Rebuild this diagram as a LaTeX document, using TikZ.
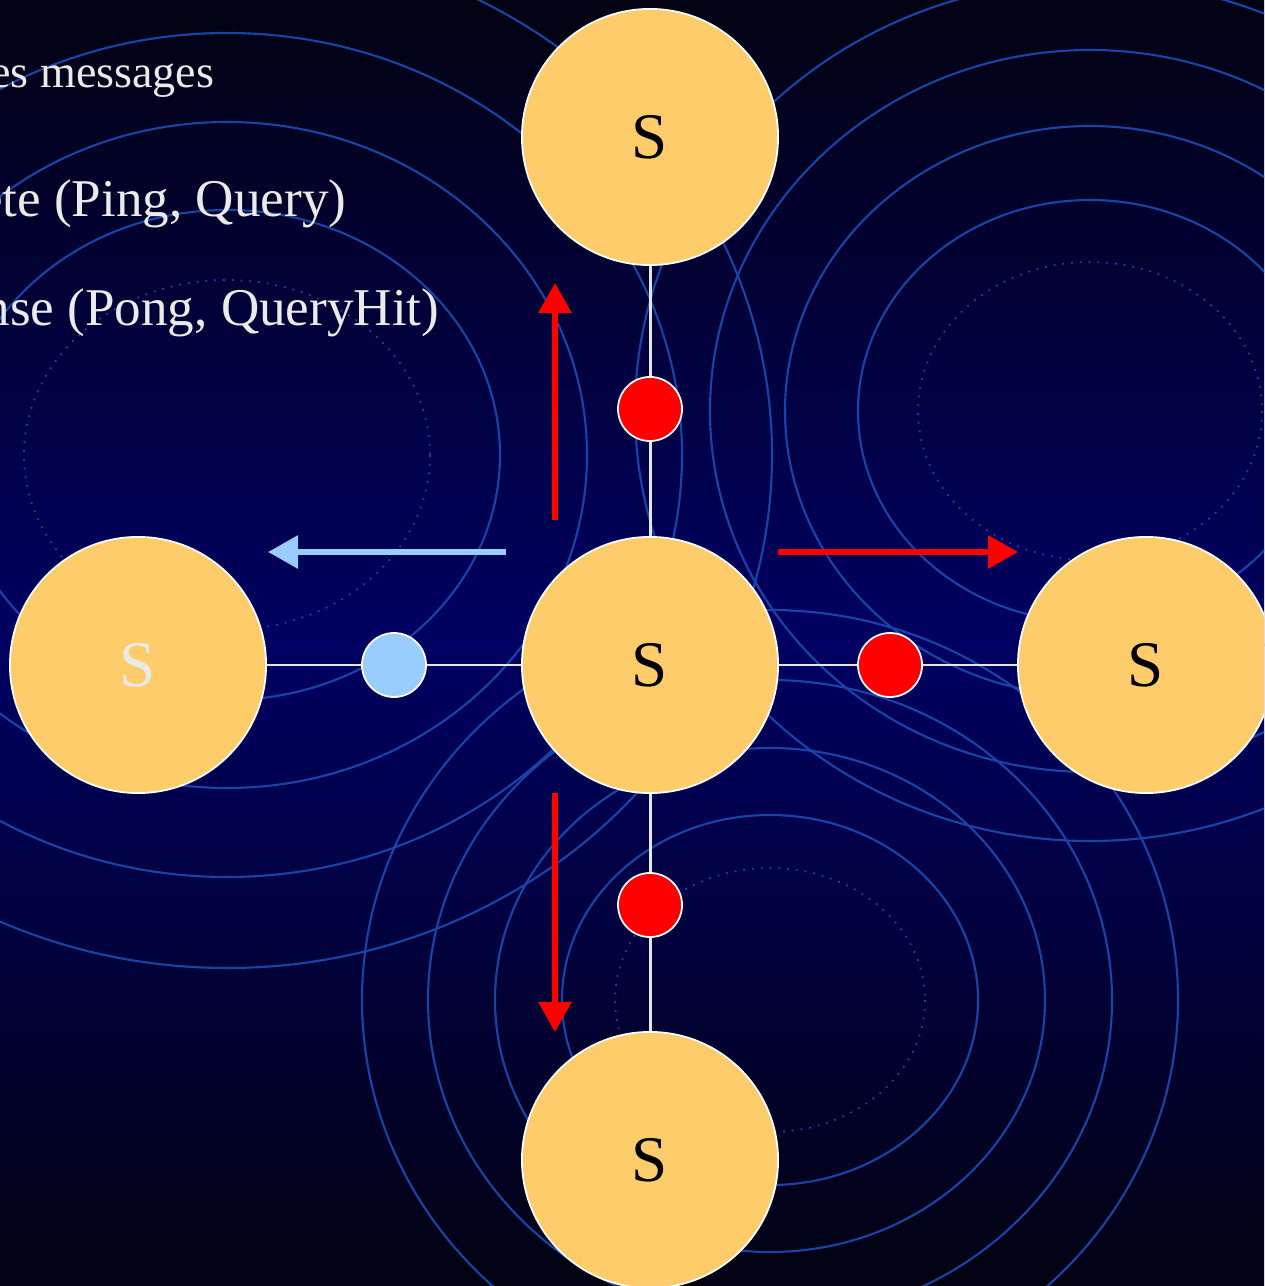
\documentclass[tikz,border=0pt]{standalone}
\usepackage{fontspec}
\setmainfont{Liberation Serif}
\usepackage{xcolor}
\usetikzlibrary{arrows.meta}

\definecolor{sky}{RGB}{0,0,98}
\definecolor{night}{RGB}{2,2,18}
\definecolor{ring}{RGB}{24,68,168}
\definecolor{peer}{RGB}{254,204,106}
\definecolor{pale}{RGB}{153,204,255}
\definecolor{txt}{RGB}{234,234,234}

\begin{document}
\begin{tikzpicture}[
    x=0.01cm, y=-0.01cm,
    servent/.style={circle, draw=white, line width=0.5pt, fill=peer,
      minimum size=2.56cm, inner sep=0pt, font=\fontsize{18.5}{20}\selectfont},
    msg/.style={circle, draw=white, line width=0.5pt, minimum size=0.64cm, inner sep=0pt},
    link/.style={draw=white!90!black, line width=0.85pt},
    ar/.style={-{Triangle[length=0.3cm, width=0.32cm]}, line width=1.7pt},
    wave/.style={draw=ring, line width=0.6pt},
    dwave/.style={draw=ring, line width=0.5pt, dotted},
    bullet/.style={anchor=base east, text=txt, inner sep=0pt},
  ]
    % Background and ripples
    \useasboundingbox (0,0) rectangle (1264,1286);
    \clip (0,0) rectangle (1264,1286);
    \shade[top color=night, bottom color=night, middle color=sky] (0,0) rectangle (1264,1286);
    \draw[dwave] (227,455) ellipse [x radius=203, y radius=175];
    \foreach \rx/\ry in {273/245, 360/333, 455/422, 545/513}
      \draw[wave] (227,455) ellipse [x radius=\rx, y radius=\ry];
    \draw[dwave] (1090,411) ellipse [x radius=172, y radius=149];
    \foreach \rx/\ry in {232/211, 305/285, 380/361, 455/430}
      \draw[wave] (1090,411) ellipse [x radius=\rx, y radius=\ry];
    \draw[dwave] (770,1000) ellipse [x radius=155, y radius=132];
    \foreach \rx/\ry in {208/185, 275/252, 342/320, 408/390}
      \draw[wave] (770,1000) ellipse [x radius=\rx, y radius=\ry];
    % Slide text
    \node[bullet, font=\fontsize{13.1}{15}\selectfont] (l1) at (215,88)  {es messages};
    \node[bullet, font=\fontsize{15.1}{18}\selectfont] (l2) at (347,217) {ete (Ping, Query)};
    \node[bullet, font=\fontsize{15.1}{18}\selectfont] (l3) at (440,326) {nse (Pong, QueryHit)};
    % Servents
    \node[servent] (top)    at (650,137)  {S};
    \node[servent] (centre) at (650,665)  {S};
    \node[servent, text=txt] (left) at (138,665) {S};
    \node[servent] (right)  at (1146,665) {S};
    \node[servent] (bottom) at (650,1160) {S};
    % Messages on the links
    \node[msg, fill=red]  (mtop)    at (650,409) {};
    \node[msg, fill=pale] (mleft)   at (394,665) {};
    \node[msg, fill=red]  (mright)  at (890,665) {};
    \node[msg, fill=red]  (mbottom) at (650,905) {};
    % Links
    \draw[link] (top) -- (mtop) -- (centre);
    \draw[link] (left) -- (mleft) -- (centre);
    \draw[link] (centre) -- (mright) -- (right);
    \draw[link] (centre) -- (mbottom) -- (bottom);
    % Direction arrows
    \coordinate (upA) at (555,520);   \coordinate (upB) at (555,283);
    \coordinate (lfA) at (506,552);   \coordinate (lfB) at (268,552);
    \coordinate (rtA) at (778,552);   \coordinate (rtB) at (1018,552);
    \coordinate (dnA) at (555,793);   \coordinate (dnB) at (555,1032);
    \draw[ar, red]  (upA) -- (upB);
    \draw[ar, pale] (lfA) -- (lfB);
    \draw[ar, red]  (rtA) -- (rtB);
    \draw[ar, red]  (dnA) -- (dnB);
\end{tikzpicture}
\end{document}
